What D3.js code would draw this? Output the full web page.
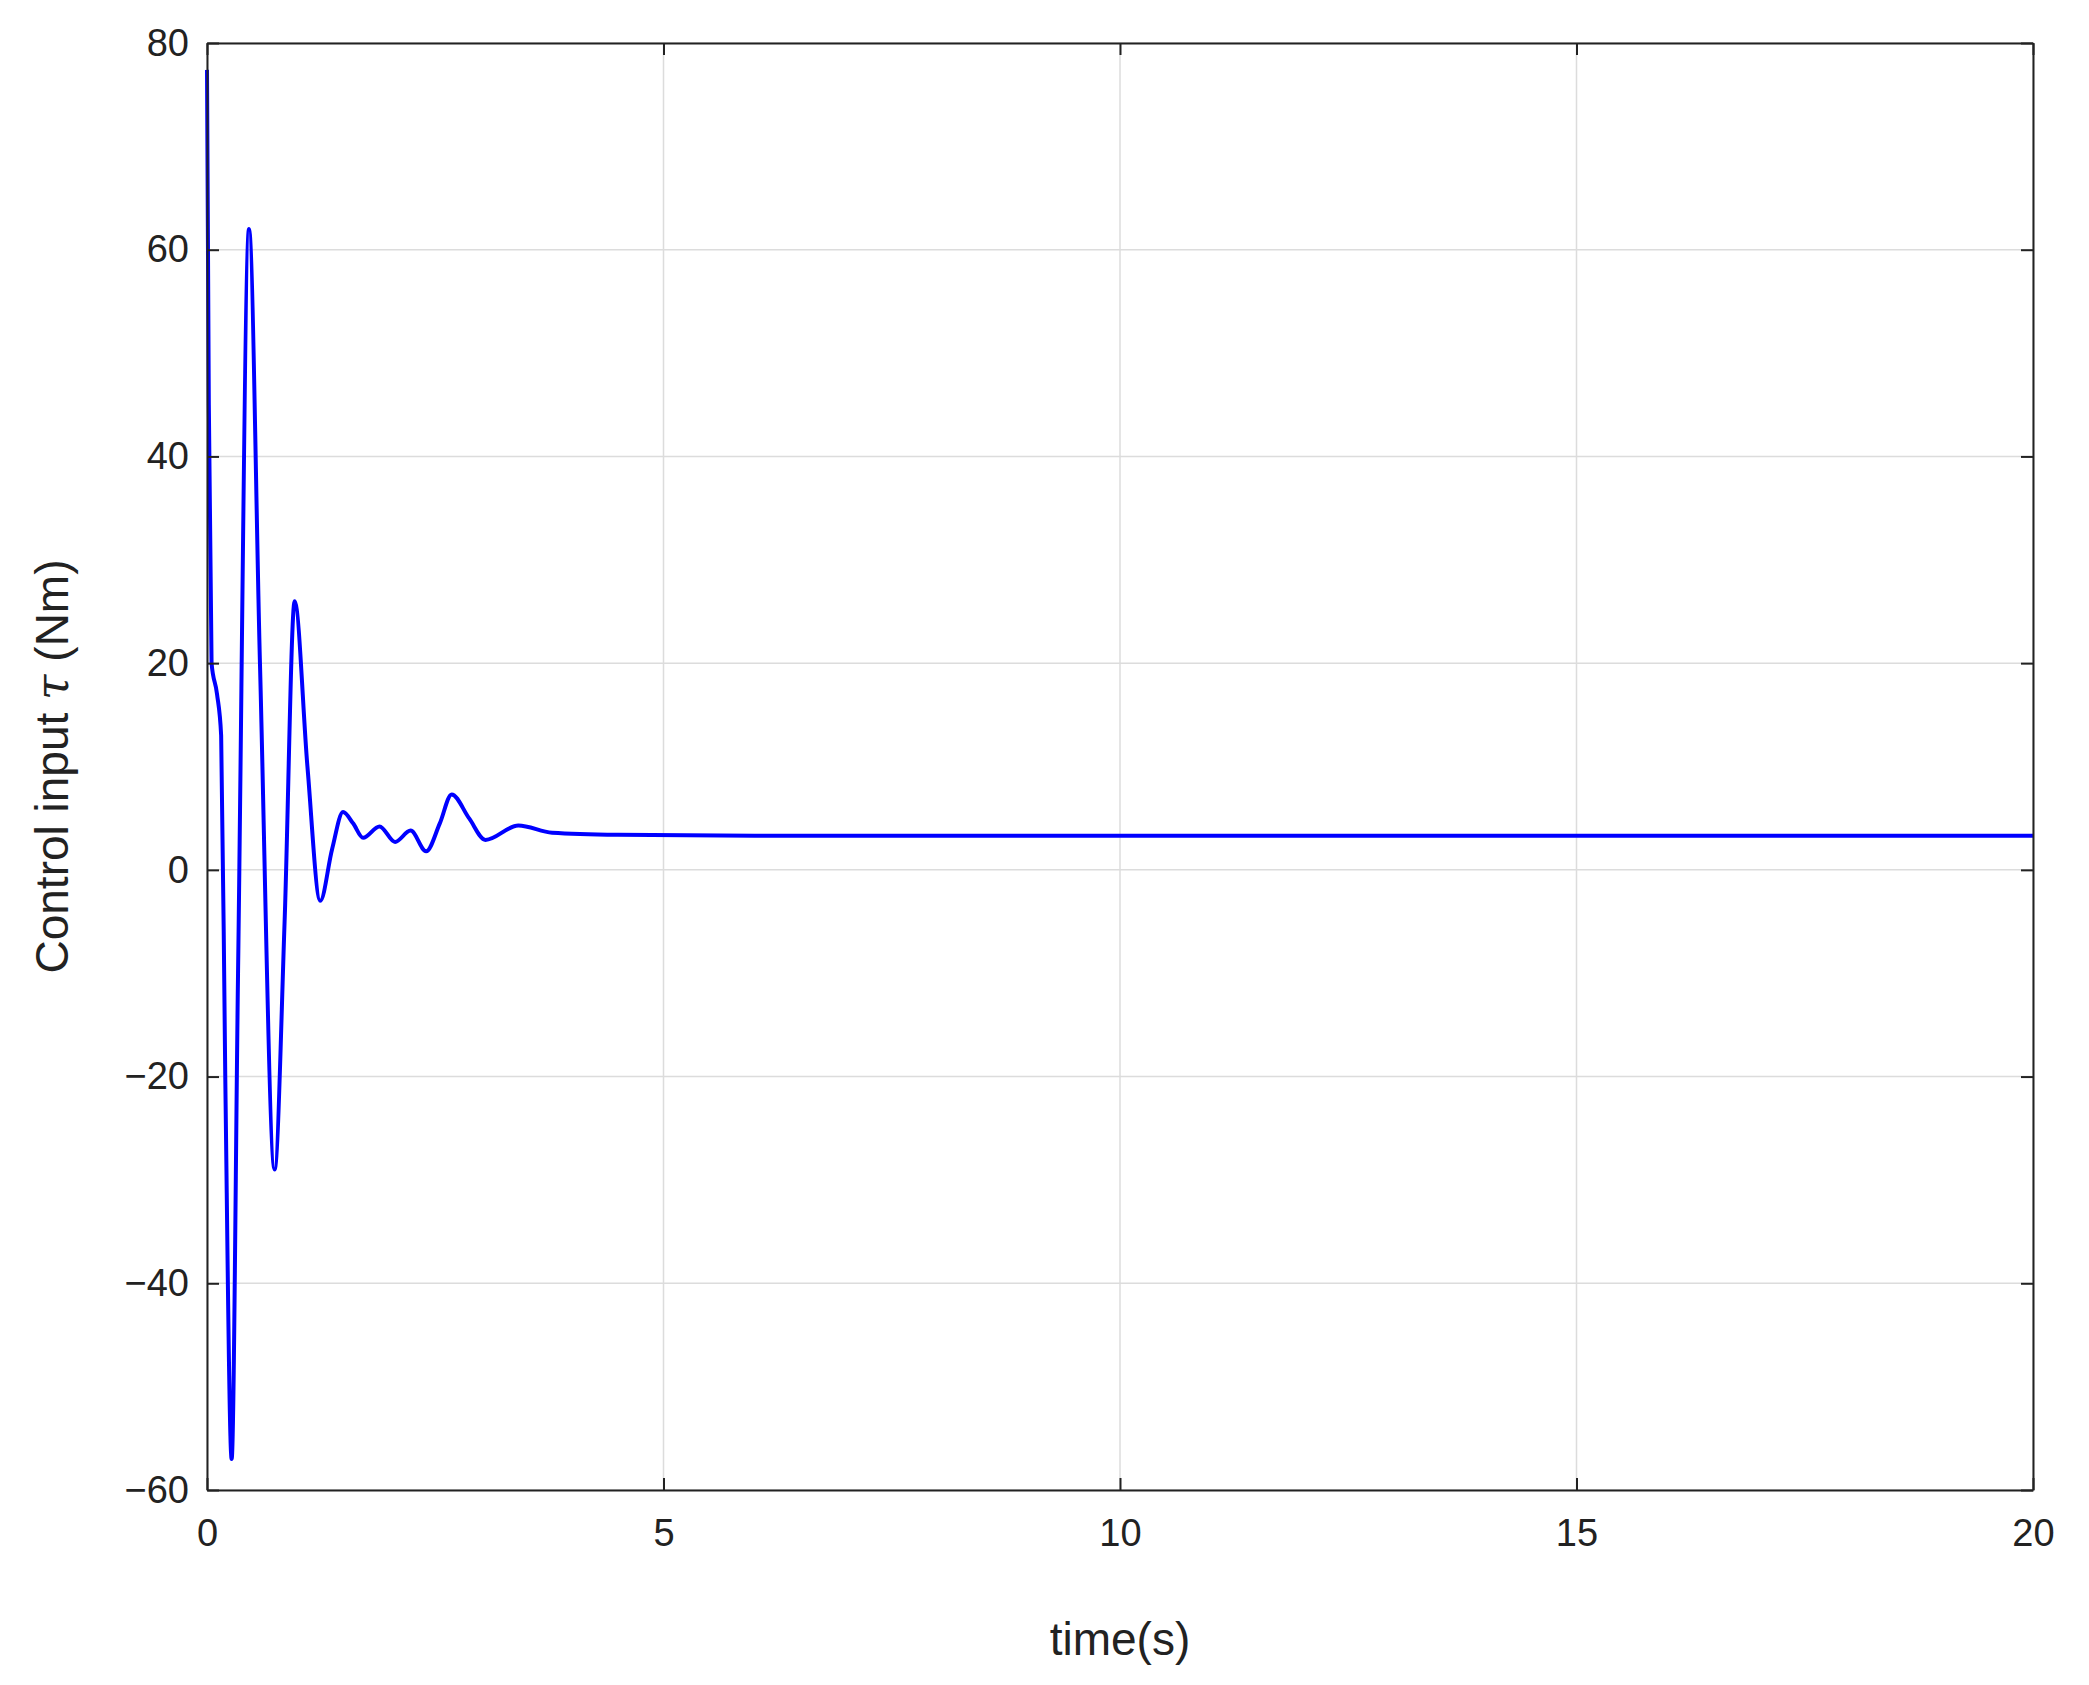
<!DOCTYPE html>
<html><head><meta charset="utf-8">
<script src="https://cdn.jsdelivr.net/npm/d3@7"></script>
<style>body{margin:0;background:#fff}</style>
</head><body>
<svg width="2089" height="1685"></svg>
<script>
const times = [0, 0.02, 0.05, 0.11, 0.155, 0.2, 0.27, 0.34, 0.46, 0.58, 0.74, 0.85, 0.96, 1.1, 1.24, 1.37, 1.49, 1.6, 1.71, 1.89, 2.06, 2.23, 2.4, 2.55, 2.68, 2.87, 3.05, 3.41, 3.78, 4.5, 6, 10, 20];
const values = [77.4, 45, 20, 17, 13, -20, -57, -10, 62, 20, -29, -5, 26, 10, -3, 2, 5.6, 4.5, 3.1, 4.2, 2.7, 3.8, 1.8, 4.5, 7.3, 5, 2.9, 4.3, 3.6, 3.4, 3.3, 3.3, 3.3];
const xTicks = [0, 5, 10, 15, 20];
const yTicks = [-60, -40, -20, 0, 20, 40, 60, 80];

const svg = d3.select("svg");
const pLeft = 207, pRight = 2033, pTop = 43, pBottom = 1490;
const x = d3.scaleLinear().domain([0, 20]).range([pLeft, pRight]);
const y = d3.scaleLinear().domain([-60, 80]).range([pBottom, pTop]);
const font = "Liberation Sans, Arial, sans-serif";

// grid
svg.append("g").selectAll("line").data(xTicks).join("line")
  .attr("x1", d => x(d)).attr("x2", d => x(d)).attr("y1", pTop).attr("y2", pBottom)
  .attr("stroke", "#dcdcdc").attr("stroke-width", 1.5);
svg.append("g").selectAll("line").data(yTicks).join("line")
  .attr("x1", pLeft).attr("x2", pRight).attr("y1", d => y(d)).attr("y2", d => y(d))
  .attr("stroke", "#dcdcdc").attr("stroke-width", 1.5);

// line
const data = times.map((t, i) => [t, values[i]]);
svg.append("path").datum(data)
  .attr("fill", "none").attr("stroke", "#0000ff").attr("stroke-width", 4)
  .attr("d", d3.line().x(d => x(d[0])).y(d => y(d[1])).curve(d3.curveMonotoneX));

// axes
const xAxis = svg.append("g").attr("transform", `translate(0,${pBottom})`)
  .call(d3.axisBottom(x).tickValues(xTicks).tickSizeInner(-12).tickSizeOuter(0).tickPadding(22));
const yAxis = svg.append("g").attr("transform", `translate(${pLeft},0)`)
  .call(d3.axisLeft(y).tickValues(yTicks).tickSizeInner(-12).tickSizeOuter(0).tickPadding(18));
svg.append("g").attr("transform", `translate(0,${pTop})`)
  .call(d3.axisTop(x).tickValues(xTicks).tickSizeInner(-12).tickSizeOuter(0).tickFormat(""));
svg.append("g").attr("transform", `translate(${pRight},0)`)
  .call(d3.axisRight(y).tickValues(yTicks).tickSizeInner(-12).tickSizeOuter(0).tickFormat(""));
svg.selectAll(".domain").attr("stroke", "#222").attr("stroke-width", 2);
svg.selectAll(".tick line").attr("stroke", "#222").attr("stroke-width", 2);
svg.selectAll(".tick text").attr("font-family", font).attr("font-size", 38).attr("fill", "#222");
xAxis.selectAll(".tick text").attr("dy", "0.9em");

svg.append("text").attr("x", (pLeft + pRight) / 2).attr("y", 1655)
  .attr("text-anchor", "middle").attr("font-family", font).attr("font-size", 46).attr("fill", "#222")
  .text("time(s)");
const yl = svg.append("text").attr("transform", `translate(68,${(pTop + pBottom) / 2}) rotate(-90)`)
  .attr("text-anchor", "middle").attr("font-family", font).attr("font-size", 46).attr("fill", "#222");
yl.append("tspan").text("Control input ");
yl.append("tspan").attr("font-style", "italic").attr("font-family", "DejaVu Serif, serif").text("τ");
yl.append("tspan").text(" (Nm)");
</script>
</body></html>
